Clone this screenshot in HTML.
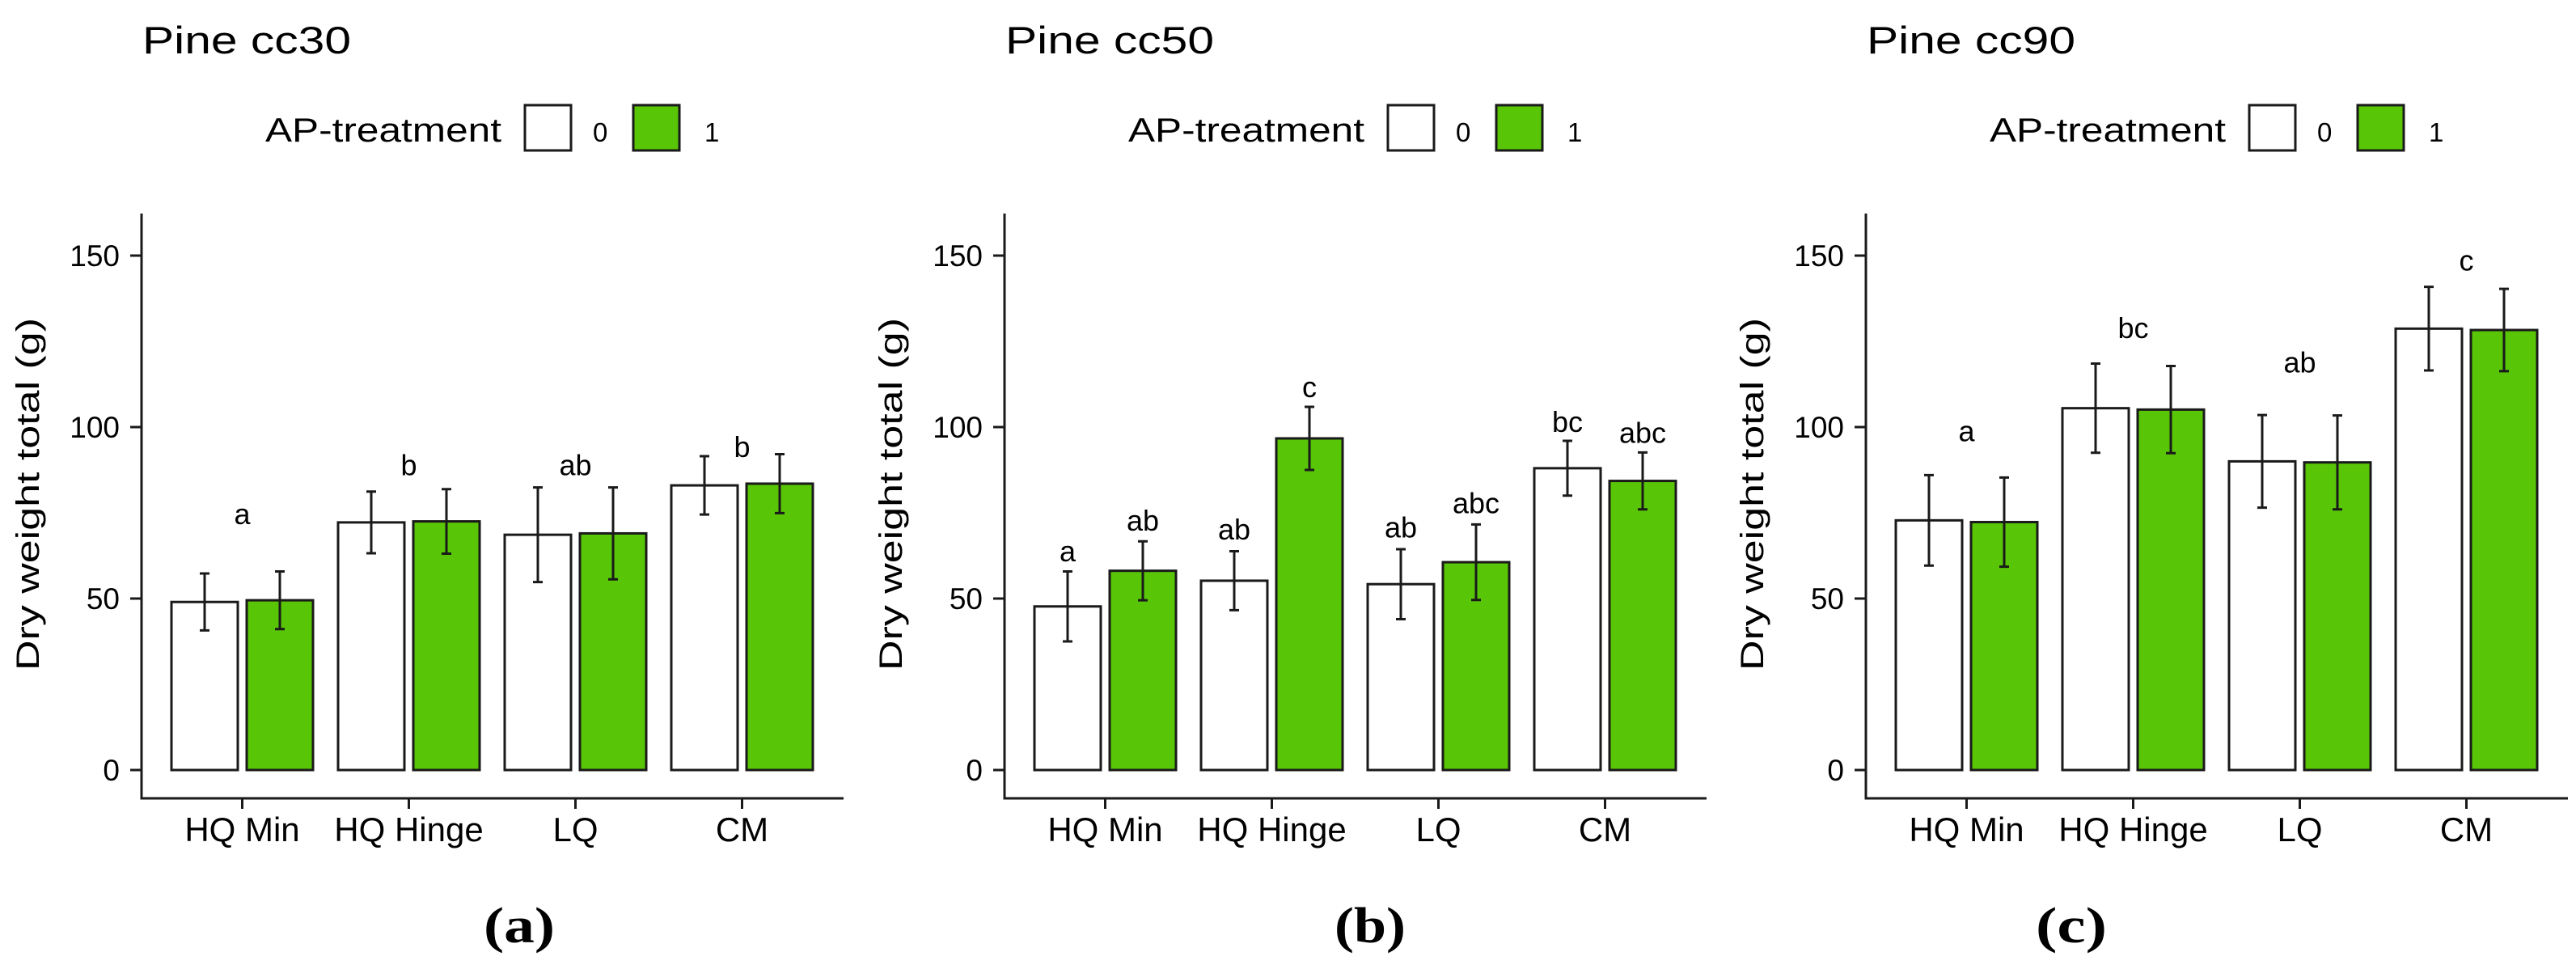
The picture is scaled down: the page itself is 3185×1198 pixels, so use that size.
<!DOCTYPE html>
<html><head><meta charset="utf-8"><style>
html,body{margin:0;padding:0;background:#fff;}
svg{display:block;}
text{font-family:"Liberation Sans",Arial,sans-serif;fill:#000;}
</style></head><body>
<svg id="fig" width="3185" height="1198" viewBox="0 0 3185 1198" xmlns="http://www.w3.org/2000/svg"></svg>
<script>
const categories = ["HQ Min","HQ Hinge","LQ","CM"];
const panelTitles = ["Pine cc30","Pine cc50","Pine cc90"];
const panelTags = ["(a)","(b)","(c)"];
const yTicks = [0,50,100,150];
const legendLabels = ["0","1"];
// Panel a
const aWhite = [49,72.2,68.6,83];
const aGreen = [49.5,72.5,69,83.5];
const aWhiteErr = [8.3,9,13.8,8.5];
const aGreenErr = [8.4,9.4,13.4,8.6];
const aLetters = ["a","b","ab","b"];
const aLetterY = [71.7,86,86,91.3];
// Panel b
const bWhite = [47.7,55.2,54.2,88];
const bGreen = [58.1,96.7,60.6,84.3];
const bWhiteErr = [10.2,8.6,10.2,8];
const bGreenErr = [8.6,9.2,11,8.3];
const bLettersWhite = ["a","ab","ab","bc"];
const bLettersGreen = ["ab","c","abc","abc"];
const bLetterYWhite = [60.8,67.2,67.8,98.6];
const bLetterYGreen = [69.8,108.7,74.9,95.4];
// Panel c
const cWhite = [72.8,105.5,90,128.7];
const cGreen = [72.3,105.1,89.7,128.3];
const cWhiteErr = [13.2,13,13.5,12.2];
const cGreenErr = [13,12.7,13.7,12];
const cLetters = ["a","bc","ab","c"];
const cLetterY = [95.9,126,115.9,145.6];

const NS="http://www.w3.org/2000/svg";
const svg=document.getElementById('fig');
function mk(tag,attrs,parent){const e=document.createElementNS(NS,tag);for(const k in attrs)e.setAttribute(k,attrs[k]);(parent||svg).appendChild(e);return e;}
const GREEN="#58c606", STROKE="#1a1a1a";
const Y0=952, PX=4.24;
function yScale(v){return Y0-v*PX;}
const axisXs=[175,1242,2307];
const tagXs=[642,1694,2561];

function drawPanel(p,white,green,wErr,gErr,letterSets){
  const ax=axisXs[p], off=ax-175;
  const g=mk('g',{});
  
  
  function xCat(i){return ax+124.5+206*i;}
  const t=mk('text',{x:176+off,y:66,'font-size':47,textLength:258,lengthAdjust:'spacingAndGlyphs'},g);
  t.textContent=panelTitles[p];
  
  
  // legend
  const lg=mk('g',{},g);
  
  
  const lt=mk('text',{x:328+off,y:175,'font-size':42,textLength:292,lengthAdjust:'spacingAndGlyphs'},lg);
  lt.textContent="AP-treatment";
  
  
  const keyX=[649,783], labX=[733,871], fills=["#fff",GREEN];
  for(let k=0;k<2;k++){
    const r=mk('rect',{x:keyX[k]+off,y:130,width:57,height:56,fill:fills[k],stroke:STROKE,'stroke-width':3},lg);
    
    
    const tx=mk('text',{x:labX[k]+off,y:175,'font-size':33},lg);
    tx.textContent=legendLabels[k];
    
    
  }
  // axes
  const ya=mk('line',{x1:ax,y1:264,x2:ax,y2:988,stroke:STROKE,'stroke-width':3},g);
  
  
  const xa=mk('line',{x1:ax-1.5,y1:987,x2:ax+868,y2:987,stroke:STROKE,'stroke-width':3},g);
  
  
  yTicks.forEach(v=>{
    const tk=mk('line',{x1:ax-14,y1:yScale(v),x2:ax,y2:yScale(v),stroke:STROKE,'stroke-width':3},g);
    
    
    const tl=mk('text',{x:ax-27,y:yScale(v)+13,'font-size':37,'text-anchor':'end',fill:'#333'},g);
    tl.textContent=String(v);
    
    
  });
  const yl=mk('text',{x:0,y:0,'font-size':40,'text-anchor':'middle',textLength:436,lengthAdjust:'spacingAndGlyphs',transform:`translate(${48+off},611) rotate(-90)`},g);
  yl.textContent="Dry weight total (g)";
  
  
  categories.forEach((c,i)=>{
    const cx=xCat(i);
    const tk=mk('line',{x1:cx,y1:987,x2:cx,y2:1000,stroke:STROKE,'stroke-width':3},g);
    
    
    const tl=mk('text',{x:cx,y:1040,'font-size':42,'text-anchor':'middle',fill:'#222'},g);
    tl.textContent=c;
    
    
    const series=[[white,wErr,"#fff",-1],[green,gErr,GREEN,1]];
    series.forEach(([vals,errs,fill,side],s)=>{
      const x0=side<0?cx-87.5:cx+5.5;
      const r=mk('rect',{x:x0,y:yScale(vals[i]),width:82,height:yScale(0)-yScale(vals[i]),fill:fill,stroke:STROKE,'stroke-width':3},g);
      
      
      const ex=x0+41, hi=yScale(vals[i]+errs[i]), lo=yScale(vals[i]-errs[i]);
      const eg=mk('path',{d:`M${ex},${hi}V${lo}M${ex-6},${hi}H${ex+6}M${ex-6},${lo}H${ex+6}`,stroke:STROKE,'stroke-width':3,fill:'none'},g);
      
      
    });
  });
  letterSets.forEach(ls=>{
    ls.letters.forEach((L,i)=>{
      const lx=xCat(i)+ls.dx;
      const tl=mk('text',{x:lx,y:yScale(ls.ys[i]),'font-size':36,'text-anchor':'middle',fill:'#222'},g);
      tl.textContent=L;
      
      
    });
  });
  const tg=mk('text',{x:tagXs[p],y:1165,'font-size':62,'font-weight':'bold','text-anchor':'middle',textLength:88,lengthAdjust:'spacingAndGlyphs',style:'font-family:"Liberation Serif",serif'},g);
  tg.textContent=panelTags[p];
  
  
}
drawPanel(0,aWhite,aGreen,aWhiteErr,aGreenErr,[{letters:aLetters,ys:aLetterY,dx:0}]);
drawPanel(1,bWhite,bGreen,bWhiteErr,bGreenErr,[{letters:bLettersWhite,ys:bLetterYWhite,dx:-46.5},{letters:bLettersGreen,ys:bLetterYGreen,dx:46.5}]);
drawPanel(2,cWhite,cGreen,cWhiteErr,cGreenErr,[{letters:cLetters,ys:cLetterY,dx:0}]);
</script>
</body></html>
